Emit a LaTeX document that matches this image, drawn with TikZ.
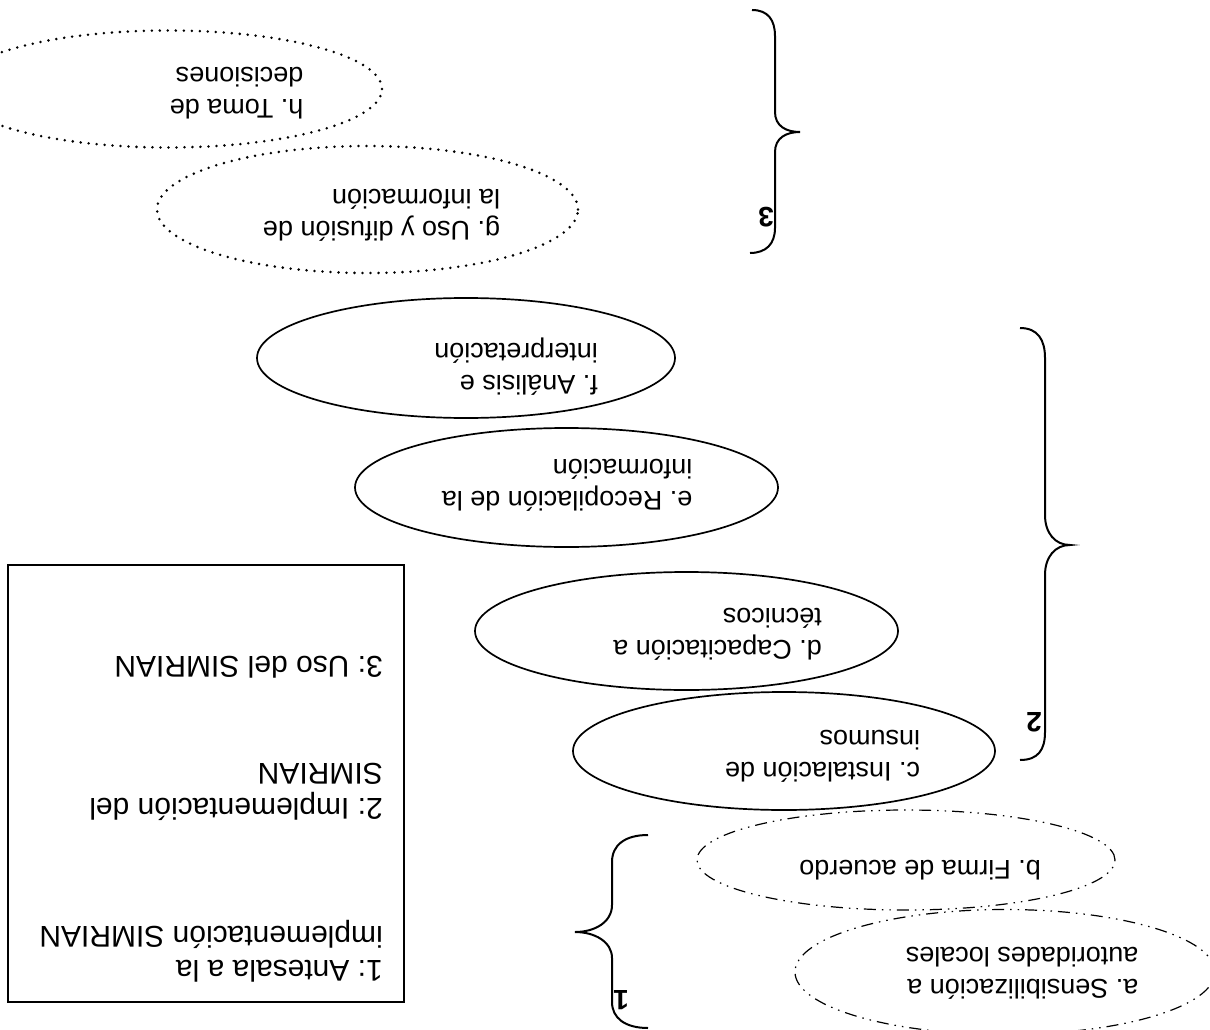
\documentclass[tikz,border=0pt]{standalone}
\usepackage{fontspec}
\setmainfont{Liberation Sans}
\usetikzlibrary{shapes.geometric}
\frenchspacing
\begin{document}
\begin{tikzpicture}[x=1pt,y=-1pt,
  oval/.style={ellipse, draw, line width=1.7pt, inner sep=0pt},
  ovaldot/.style={oval, line width=2.8pt, line cap=round, dash pattern=on 0pt off 8pt},
  ovaldash/.style={oval, line width=1.2pt, dash pattern=on 12pt off 6pt on 1.5pt off 6pt on 1.5pt off 6pt},
  lbl/.style={rotate=180, align=left, inner sep=0pt, font=\fontsize{27}{32}\selectfont},
  leg/.style={rotate=180, align=left, inner sep=0pt, anchor=west, font=\fontsize{30}{34.5}\selectfont},
  bracepath/.style={line width=2pt},
  num/.style={rotate=180, inner sep=0pt, font=\fontsize{28}{28}\selectfont\bfseries}]
\clip (0,0) rectangle (1210,1030);
\fill[white] (0,0) rectangle (1210,1030);

% phase 3 ellipses
\node[ovaldot, minimum width=428pt, minimum height=117pt] (h) at (168,89) {};
\node[lbl] (ht) at (236.5,93) {h. Toma de\\decisiones};
\node[ovaldot, minimum width=421pt, minimum height=127pt] (g) at (367.5,209.5) {};
\node[lbl] (gt) at (381.5,215) {g. Uso y difusi\'on de\\la informaci\'on};

% phase 2 ellipses
\node[oval, minimum width=418pt, minimum height=120pt] (f) at (466,358) {};
\node[lbl] (ft) at (516,367) {f. An\'alisis e\\interpretaci\'on};
\node[oval, minimum width=423pt, minimum height=119pt] (e) at (566.5,487.5) {};
\node[lbl] (et) at (567,485) {e. Recopilaci\'on de la\\informaci\'on};
\node[oval, minimum width=423pt, minimum height=118pt] (d) at (686.5,631) {};
\node[lbl] (dt) at (717.5,634) {d. Capacitaci\'on a\\t\'ecnicos};
\node[oval, minimum width=422pt, minimum height=118pt] (c) at (784,751) {};
\node[lbl] (ct) at (822.5,756) {c. Instalaci\'on de\\insumos};

% phase 1 ellipses
\node[ovaldash, minimum width=418pt, minimum height=100pt] (b) at (906,860) {};
\node[lbl] (bt) at (920,870) {b. Firma de acuerdo};
\node[ovaldash, minimum width=420pt, minimum height=125pt] (a) at (1005,972) {};
\node[lbl] (ta) at (1022,973) {a. Sensibilizaci\'on a\\autoridades locales};

% legend
\node[draw, line width=1.4pt, minimum width=396pt, minimum height=437pt, inner sep=0pt] (legend) at (206,783.5) {};
\node[leg] (l1) at (383,951) {1: Antesala a la\\implementaci\'on SIMRIAN};
\node[leg] (l2) at (383,792) {2: Implementaci\'on del\\SIMRIAN};
\node[leg] (l3) at (383,667) {3: Uso del SIMRIAN};

% braces
\draw[bracepath] (752,10) .. controls (768,10) and (775,20) .. (775,36) -- (775,112)
  .. controls (775,126) and (786,132) .. (800,132)
  .. controls (786,132) and (775,138) .. (775,152) -- (775,228)
  .. controls (775,244) and (766,253) .. (750,253);
\node[num] (n3) at (766,217) {3};

\draw[bracepath] (1020,328) .. controls (1038,328) and (1045,340) .. (1045,358) -- (1045,515)
  .. controls (1045,533) and (1055,545) .. (1070,545)
  .. controls (1055,545) and (1045,557) .. (1045,575) -- (1045,732)
  .. controls (1045,750) and (1038,760) .. (1020,760);
\node[num] (n2) at (1034,722) {2};

\draw[bracepath] (648,835) .. controls (625,835) and (612,845) .. (612,862) -- (612,905)
  .. controls (612,922) and (595,932) .. (575,932)
  .. controls (595,932) and (612,942) .. (612,958) -- (612,1002)
  .. controls (612,1018) and (625,1028) .. (648,1028);
\node[num] (n1) at (621,1000) {1};
\end{tikzpicture}
\end{document}
